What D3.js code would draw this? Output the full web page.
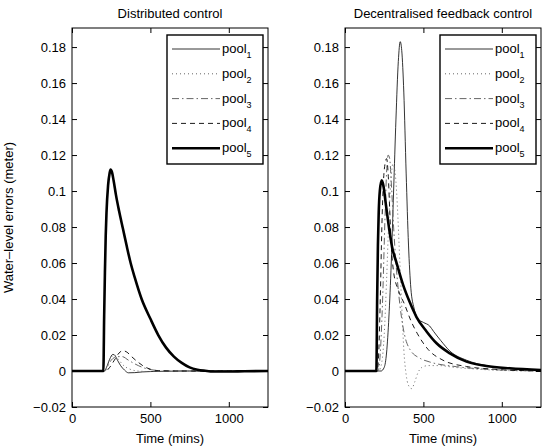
<!DOCTYPE html>
<html>
<head>
<meta charset="utf-8">
<script src="https://cdn.jsdelivr.net/npm/d3@7"></script>
<style>
  body { margin: 0; background: #fff; }
  svg { display: block; }
  text { font-family: "Liberation Sans", Arial, Helvetica, sans-serif; fill: #000; }
</style>
</head>
<body>
<div id="chart"></div>
<script>
// ---- data (time in mins, water-level error in meter) ----
const distPool1 = [[0,0],[205,0],[220,0.002],[240,0.0065],[260,0.0092],[270,0.009],[290,0.006],[310,0.003],[335,0.0005],[360,-0.001],[400,-0.0009],[450,-0.0005],[550,-0.0002],[700,0],[1250,0]];
const distPool2 = [[0,0],[205,0],[225,0.003],[245,0.007],[265,0.0085],[280,0.008],[300,0.006],[330,0.003],[370,0.001],[420,0],[500,-0.0003],[700,0],[1250,0]];
const distPool3 = [[0,0],[210,0],[230,0.003],[250,0.006],[270,0.0075],[290,0.008],[320,0.008],[360,0.006],[400,0.004],[450,0.002],[500,0.0008],[600,0],[1250,0]];
const distPool4 = [[0,0],[215,0],[240,0.002],[270,0.006],[300,0.010],[325,0.0113],[350,0.0105],[380,0.008],[420,0.005],[460,0.0025],[500,0.001],[550,0.0002],[700,0],[1250,0]];
const distPool5 = [[0,0],[200,0],[205,0.03],[210,0.055],[215,0.075],[220,0.088],[230,0.103],[240,0.110],[246,0.112],[255,0.1105],[265,0.106],[280,0.098],[300,0.089],[325,0.079],[350,0.069],[374,0.060],[400,0.052],[444,0.040],[500,0.029],[550,0.020],[600,0.013],[650,0.008],[700,0.0045],[750,0.002],[800,0.0007],[850,0.0001],[900,-0.0003],[1000,-0.0003],[1100,-0.0001],[1250,0]];

const decPool1 = [[0,0],[230,0],[250,0.002],[265,0.01],[280,0.03],[295,0.06],[310,0.10],[325,0.14],[340,0.172],[352,0.183],[362,0.178],[375,0.155],[390,0.11],[405,0.07],[420,0.046],[440,0.035],[465,0.029],[500,0.027],[540,0.025],[565,0.022],[610,0.017],[670,0.011],[775,0.006],[900,0.003],[1050,0.0013],[1250,0.0004]];
const decPool2 = [[0,0],[215,0],[235,0.005],[250,0.02],[265,0.05],[280,0.085],[295,0.108],[305,0.115],[315,0.113],[325,0.105],[335,0.09],[345,0.07],[355,0.05],[365,0.03],[375,0.012],[390,-0.002],[405,-0.008],[425,-0.0098],[445,-0.006],[465,-0.001],[490,0.002],[530,0.003],[600,0.003],[700,0.002],[850,0.001],[1000,0.0003],[1250,0]];
const decPool3 = [[0,0],[210,0],[225,0.01],[240,0.04],[255,0.085],[265,0.11],[275,0.12],[285,0.118],[295,0.105],[310,0.08],[325,0.06],[340,0.045],[360,0.03],[380,0.02],[414,0.012],[480,0.007],[541,0.005],[711,0.0024],[900,0.001],[1250,0]];
const decPool4 = [[0,0],[205,0],[215,0.01],[225,0.04],[235,0.08],[245,0.105],[255,0.115],[265,0.118],[275,0.11],[285,0.09],[295,0.07],[310,0.055],[340,0.045],[380,0.037],[420,0.028],[460,0.021],[530,0.012],[625,0.006],[775,0.0025],[950,0.001],[1250,0]];
const decPool5 = [[0,0],[200,0],[205,0.04],[210,0.07],[215,0.088],[222,0.100],[234,0.106],[245,0.103],[260,0.093],[280,0.080],[300,0.069],[329,0.060],[370,0.048],[414,0.038],[456,0.030],[520,0.022],[584,0.0154],[669,0.0098],[775,0.0052],[902,0.0028],[1051,0.0015],[1250,0.0005]];

const legendSubs = ["1", "2", "3", "4", "5"];
const xTicks = [0, 500, 1000];
const xTickLabels = ["0", "500", "1000"];
const yTicks = [-0.02, 0, 0.02, 0.04, 0.06, 0.08, 0.1, 0.12, 0.14, 0.16, 0.18];
const yTickLabels = ["\u22120.02", "0", "0.02", "0.04", "0.06", "0.08", "0.1", "0.12", "0.14", "0.16", "0.18"];

// ---- style ----
const lineStyles = [
  { width: 0.8, dash: null, color: "#000" },
  { width: 1.0, dash: "1,3", color: "#666" },
  { width: 1.0, dash: "7,3,1.5,3", color: "#666" },
  { width: 0.9, dash: "5,4", color: "#000" },
  { width: 2.6, dash: null, color: "#000" }
];

const width = 544, height = 448;
const pw = 196, ph = 379, marginTop = 28;

const svg = d3.select("#chart").append("svg")
  .attr("width", width)
  .attr("height", height);

const x = d3.scaleLinear().domain([0, 1250]).range([0, pw]);
const y = d3.scaleLinear().domain([-0.02, 0.1906]).range([ph, 0]);

const line = d3.line()
  .x(d => x(d[0]))
  .y(d => y(d[1]))
  .curve(d3.curveMonotoneX);

function drawPanel(left, title, series, withYLabel) {
  const g = svg.append("g").attr("transform", `translate(${left},${marginTop})`);

  series.forEach((s, i) => {
    const st = lineStyles[i];
    g.append("path")
      .datum(s)
      .attr("fill", "none")
      .attr("stroke", st.color)
      .attr("stroke-width", st.width)
      .attr("stroke-dasharray", st.dash)
      .attr("d", line);
  });

  // axes, ticks inward
  const yl = g.append("g")
    .call(d3.axisLeft(y).tickValues(yTicks).tickSize(-5).tickPadding(6)
      .tickFormat((d, i) => yTickLabels[i]));
  const yr = g.append("g").attr("transform", `translate(${pw},0)`)
    .call(d3.axisRight(y).tickValues(yTicks).tickSize(-5).tickFormat(""));
  const xb = g.append("g").attr("transform", `translate(0,${ph})`)
    .call(d3.axisBottom(x).tickValues(xTicks).tickSize(-5).tickPadding(7)
      .tickFormat((d, i) => xTickLabels[i]));
  const xt = g.append("g")
    .call(d3.axisTop(x).tickValues(xTicks).tickSize(-5).tickFormat(""));
  [yl, yr, xb, xt].forEach(a => {
    a.select(".domain").remove();
    a.selectAll("line").attr("stroke", "#000");
    a.selectAll("text").attr("font-size", 13).attr("font-family", null);
  });

  g.append("rect")
    .attr("width", pw).attr("height", ph)
    .attr("fill", "none").attr("stroke", "#000").attr("stroke-width", 1);

  // title and x label
  g.append("text")
    .attr("x", pw / 2).attr("y", -10)
    .attr("text-anchor", "middle").attr("font-size", 13)
    .text(title);
  g.append("text")
    .attr("x", pw / 2).attr("y", ph + 36)
    .attr("text-anchor", "middle").attr("font-size", 13)
    .text("Time (mins)");

  if (withYLabel) {
    g.append("text")
      .attr("transform", `translate(${-59},${ph / 2}) rotate(-90)`)
      .attr("text-anchor", "middle").attr("font-size", 13)
      .text("Water\u2013level errors (meter)");
  }

  // legend
  const lx = 95, ly = 7, lw = 96, lh = 129;
  const lg = g.append("g");
  lg.append("rect")
    .attr("x", lx).attr("y", ly).attr("width", lw).attr("height", lh)
    .attr("fill", "#fff").attr("stroke", "#000").attr("stroke-width", 1.4);
  legendSubs.forEach((sub, i) => {
    const st = lineStyles[i];
    const ry = ly + 14 + i * 24.8;
    lg.append("line")
      .attr("x1", lx + 5).attr("x2", lx + 53)
      .attr("y1", ry).attr("y2", ry)
      .attr("stroke", st.color)
      .attr("stroke-width", st.width)
      .attr("stroke-dasharray", st.dash);
    const t = lg.append("text")
      .attr("x", lx + 55).attr("y", ry + 4)
      .attr("font-size", 13);
    t.append("tspan").text("pool");
    t.append("tspan").attr("font-size", 9).attr("dy", 5).text(sub);
  });
}

drawPanel(72, "Distributed control",
  [distPool1, distPool2, distPool3, distPool4, distPool5], true);
drawPanel(345, "Decentralised feedback control",
  [decPool1, decPool2, decPool3, decPool4, decPool5], false);
</script>
</body>
</html>
